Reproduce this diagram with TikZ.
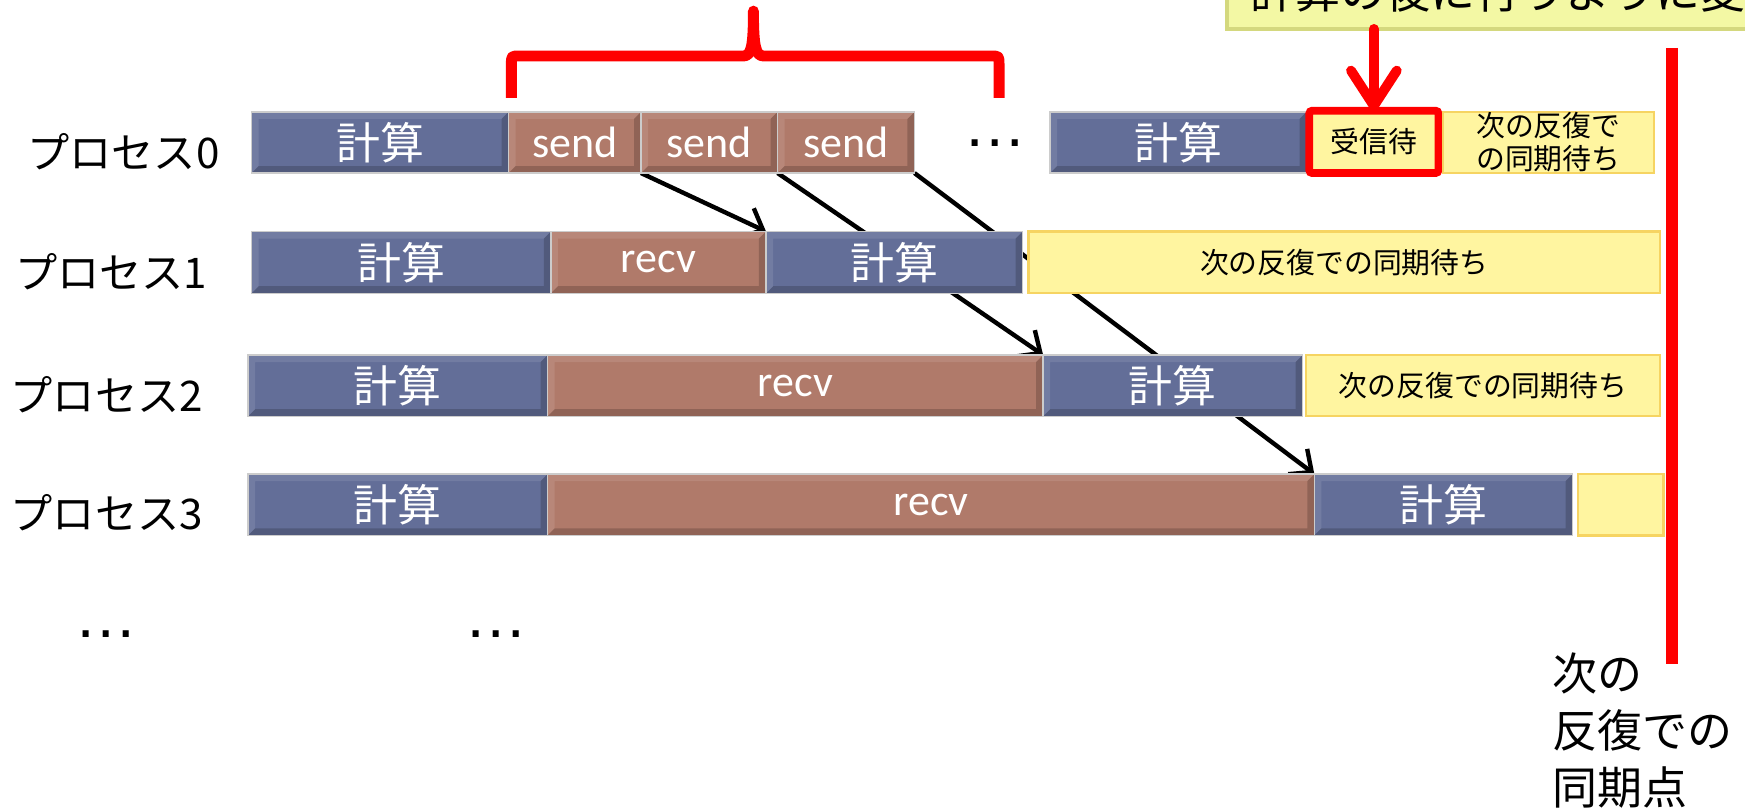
\documentclass[tikz,border=0pt]{standalone}
\usepackage{fontspec}
\setmainfont{Noto Sans CJK JP}
\newfontfamily\latinfont{Carlito}
\newfontfamily\dotfont{Liberation Sans}
\usetikzlibrary{arrows.meta,calc}
\pgfdeclarelayer{bg}
\pgfsetlayers{bg,main}
\definecolor{compblue}{RGB}{99,110,152}
\definecolor{commbrown}{RGB}{176,122,106}
\definecolor{waitfill}{RGB}{255,245,160}
\definecolor{waitline}{RGB}{246,212,98}
\definecolor{notefill}{RGB}{243,248,164}
\definecolor{noteline}{RGB}{212,216,126}
\definecolor{alertred}{RGB}{255,0,0}
% \seg{style}{name}{x1}{x2}{y1}{y2}{text}  (coordinates in picture units)
\newcommand\seg[7]{\node[#1, minimum width={(#4-#3)*0.0111288cm}, minimum height={(#6-#5)*0.0111288cm}] (#2) at ({(#3+#4)/2},{(#5+#6)/2}) {#7};}
\tikzset{
  bevel/.style={path picture={
    \fill[black,opacity=.18] (path picture bounding box.south west) -- ++(2pt,2pt)
      -| ($(path picture bounding box.north east)+(-2pt,-2pt)$)
      -- (path picture bounding box.north east) -- (path picture bounding box.south east) -- cycle;
    \fill[white,opacity=.10] (path picture bounding box.south west) -- ++(2pt,2pt)
      |- ($(path picture bounding box.north east)+(-2pt,-2pt)$)
      -- (path picture bounding box.north east) -- (path picture bounding box.north west) -- cycle;
  }},
  box/.style={inner sep=0pt, outer sep=0pt, draw=white!80!black, line width=0.4pt, bevel},
  comp/.style={box, fill=compblue, text=white, font=\fontsize{12.5}{14}\selectfont},
  comm/.style={box, fill=commbrown, text=white, font=\latinfont\fontsize{12.5}{14}\selectfont},
  idle/.style={inner sep=0pt, outer sep=0pt, draw=waitline, line width=0.7pt, fill=waitfill,
    font=\fontsize{8.2}{9.4}\selectfont, align=center},
  waitbox/.style={idle, draw=alertred, line width=2.2pt, rounded corners=0.8pt},
  note/.style={inner sep=0pt, outer sep=0pt, draw=noteline, line width=1pt, fill=notefill},
  proclabel/.style={anchor=base west, inner sep=0pt, font=\fontsize{12}{14}\selectfont},
  ellip/.style={anchor=base west, inner sep=0pt, font=\dotfont\fontsize{18}{20}\selectfont},
  link/.style={-{Straight Barb[length=5pt,width=9pt]}, line width=1.25pt, black},
  notearrow/.style={-{Straight Barb[length=10pt,width=13pt,round]}, line width=2.8pt, alertred, line cap=round},
}
\begin{document}
\begin{tikzpicture}[x=0.0111288cm, y=-0.0111288cm]
\useasboundingbox (0,0) rectangle (1568,729.6);
\clip (0,0) rectangle (1568,729.6);

% callout at the top (cut by the picture edge)
\seg{note}{note}{1102.5}{1900}{-60}{26}{}
\node[anchor=base west, inner sep=0pt, font=\fontsize{12.8}{15}\selectfont] (notetext) at (1123,8) {計算の後に行うように変更};

% red bracket over the sends
\draw[alertred, line width=3.1pt, line join=round]
  (459.5,88) -- (459.5,58) .. controls (459.5,50.3) .. (467,50.3) -- (668,50.3)
  .. controls (675,50.3) and (677,42) .. (677,10)
  .. controls (677,42) and (679,50.3) .. (686,50.3) -- (890,50.3)
  .. controls (897.7,50.3) .. (897.7,58) -- (897.7,88);

% labels
\node[proclabel] (p0) at (24,151) {プロセス0};
\node[proclabel] (p1) at (13,259) {プロセス1};
\node[proclabel] (p2) at (9,370) {プロセス2};
\node[proclabel] (p3) at (9,476) {プロセス3};

% process 0
\seg{comp}{c0a}{226}{457}{100.5}{155.5}{計算}
\seg{comm}{s1}{457}{576}{100.5}{155.5}{send}
\seg{comm}{s2}{576}{698.7}{100.5}{155.5}{send}
\seg{comm}{s3}{698.7}{821.7}{100.5}{155.5}{send}
\node[ellip] (dots0) at (865,132) {…};
\seg{comp}{c0b}{943.5}{1174}{100.5}{155.5}{計算}
\seg{waitbox}{w0}{1176.5}{1292.5}{99.5}{155.5}{受信待}
\seg{idle}{y0}{1296.5}{1486}{100.5}{155.5}{次の反復で\\の同期待ち}

% process 1
\seg{comp}{c1a}{226}{495}{208}{263.5}{計算}
\seg{comm}{r1}{495}{688.3}{208}{263.5}{recv}
\seg{comp}{c1b}{688.3}{919}{208}{263.5}{計算}
\seg{idle}{y1}{924.2}{1491.5}{208}{263.5}{次の反復での同期待ち}

% process 2
\seg{comp}{c2a}{223}{492}{319}{374}{計算}
\seg{comm}{r2}{492}{937.3}{319}{374}{recv}
\seg{comp}{c2b}{937.3}{1170.5}{319}{374}{計算}
\seg{idle}{y2}{1173.6}{1491.5}{319}{374}{次の反復での同期待ち}

% process 3
\seg{comp}{c3a}{223}{492}{426}{481}{計算}
\seg{comm}{r3}{492}{1181}{426}{481}{recv}
\seg{comp}{c3b}{1181}{1413}{426}{481}{計算}
\seg{idle}{y3}{1418}{1494.7}{426}{481}{}

% more processes
\node[ellip] (dotsA) at (66,573) {…};
\node[ellip] (dotsB) at (417,573) {…};

% messages (behind the boxes)
\begin{pgfonlayer}{bg}
\draw[link] (s1.south east) -- (r1.north east);
\draw[link] (s2.south east) -- (r2.north east);
\draw[link] (s3.south east) -- (r3.north east);
\end{pgfonlayer}

% callout arrow
\draw[notearrow] (note.south -| w0.north) -- (w0.north);

% synchronisation line
\coordinate (syncTop) at (1502.5,43);
\coordinate (syncBot) at (1502.5,597);
\draw[alertred, line width=3.6pt] (syncTop) -- (syncBot);
\node[anchor=north west, inner sep=0pt, align=left, font=\fontsize{12.8}{16.2}\selectfont] (synclabel) at (1394,586) {次の\\反復での\\同期点};
\end{tikzpicture}
\end{document}
